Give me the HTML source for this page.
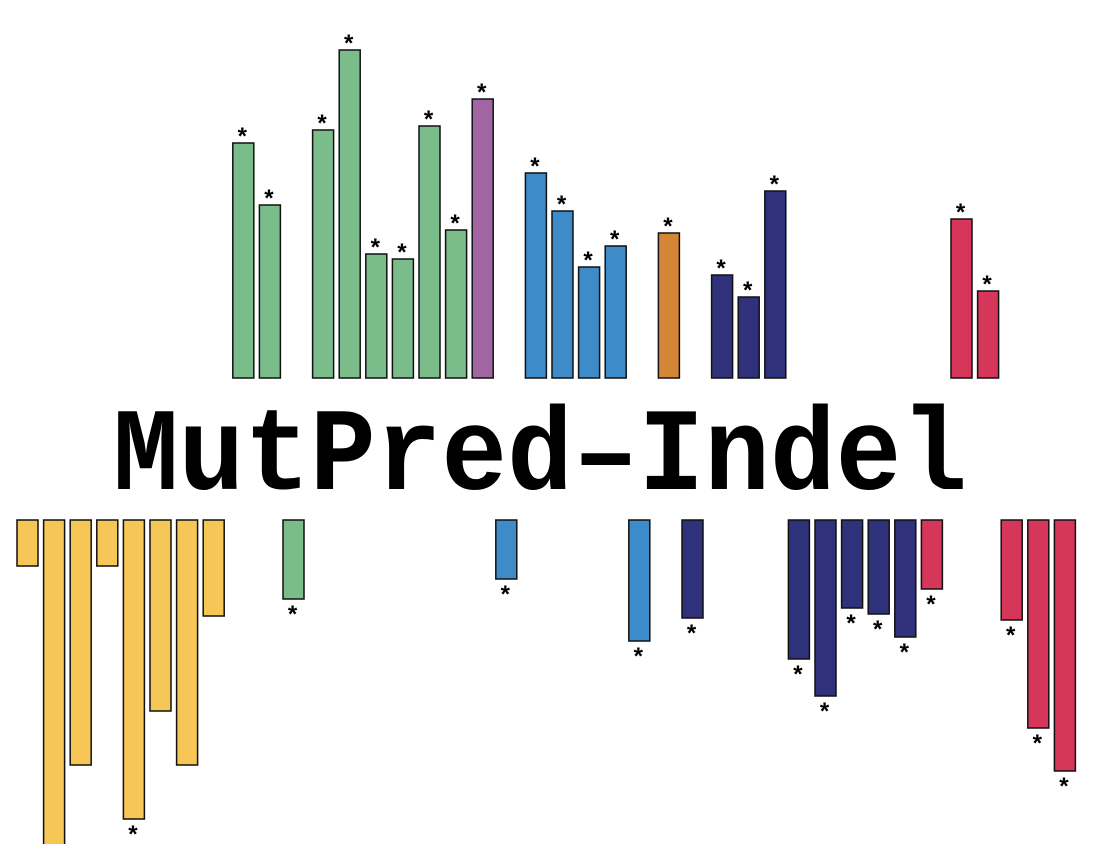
<!DOCTYPE html>
<html><head><meta charset="utf-8"><style>
html,body{margin:0;padding:0;background:#fff;width:1094px;height:844px;overflow:hidden}
svg{display:block}
</style></head><body>
<svg id="chart" width="1094" height="844" viewBox="0 0 1094 844" xmlns="http://www.w3.org/2000/svg">
<text x="540" y="0" transform="translate(0,489) scale(1,1.08)" text-anchor="middle" font-family="Liberation Mono, monospace" font-weight="bold" font-size="109.5" fill="#000">MutPred–Indel</text>
</svg>
<script>
// top panel (gains) slot indices, heights, colors, significance
const topSlots  = [8, 9, 11, 12, 13, 14, 15, 16, 17, 19, 20, 21, 22, 24, 26, 27, 28, 35, 36];
const topValues = [235, 173, 248, 328, 124, 119, 252, 148, 279, 205, 167, 111, 132, 145, 103, 81, 187, 159, 87];
const topColors = ["g","g","g","g","g","g","g","g","p","b","b","b","b","o","n","n","n","r","r"];
const topSig    = [1,1,1,1,1,1,1,1,1,1,1,1,1,1,1,1,1,1,1];
// bottom panel (losses)
const botSlots  = [0, 1, 2, 3, 4, 5, 6, 7, 10, 18, 23, 25, 29, 30, 31, 32, 33, 34, 37, 38, 39];
const botValues = [46, 330, 245, 46, 299, 191, 245, 96, 79, 59, 121, 98, 139, 176, 88, 94, 117, 69, 100, 208, 251];
const botColors = ["y","y","y","y","y","y","y","y","g","b","b","n","n","n","n","n","n","r","r","r","r"];
const botSig    = [0,0,0,0,1,0,0,0,1,1,1,1,1,1,1,1,1,1,1,1,1];
const palette = {g:"#7bbd8a", p:"#a065a2", b:"#3d8bc9", o:"#d48536", n:"#2f327a", r:"#d6365a", y:"#f6c657"};

const svg = document.getElementById('chart');
const NS = "http://www.w3.org/2000/svg";
const slotW = 26.6, barW = 21;
const xTop = i => 20 + slotW * i;
const xBot = i => 17 + slotW * i;
const topBase = 378, botBase = 520;
const yTop = v => topBase - v;
const yBot = v => botBase + v;

topSlots.forEach((s, k) => {
  const r = document.createElementNS(NS, 'rect');
  r.setAttribute('x', xTop(s)); r.setAttribute('y', yTop(topValues[k]));
  r.setAttribute('width', barW); r.setAttribute('height', topValues[k]);
  r.setAttribute('fill', palette[topColors[k]]); r.setAttribute('stroke', '#111'); r.setAttribute('stroke-width', '1.5');
  
  
  svg.appendChild(r);
  if (topSig[k]) {
    const t = document.createElementNS(NS, 'text');
    t.setAttribute('x', xTop(s) + barW / 2 - 1); t.setAttribute('y', yTop(topValues[k]) + 1);
    t.setAttribute('text-anchor', 'middle'); t.setAttribute('font-family', 'Liberation Sans, sans-serif');
    t.setAttribute('font-size', '24'); t.setAttribute('font-weight', 'bold');
    t.textContent = '*';
    
    
    svg.appendChild(t);
  }
});
botSlots.forEach((s, k) => {
  const r = document.createElementNS(NS, 'rect');
  r.setAttribute('x', xBot(s)); r.setAttribute('y', botBase);
  r.setAttribute('width', barW); r.setAttribute('height', botValues[k]);
  r.setAttribute('fill', palette[botColors[k]]); r.setAttribute('stroke', '#111'); r.setAttribute('stroke-width', '1.5');
  
  
  svg.appendChild(r);
  if (botSig[k]) {
    const t = document.createElementNS(NS, 'text');
    t.setAttribute('x', xBot(s) + barW / 2 - 1); t.setAttribute('y', yBot(botValues[k]) + 23);
    t.setAttribute('text-anchor', 'middle'); t.setAttribute('font-family', 'Liberation Sans, sans-serif');
    t.setAttribute('font-size', '24'); t.setAttribute('font-weight', 'bold');
    t.textContent = '*';
    
    
    svg.appendChild(t);
  }
});
</script>
</body></html>
